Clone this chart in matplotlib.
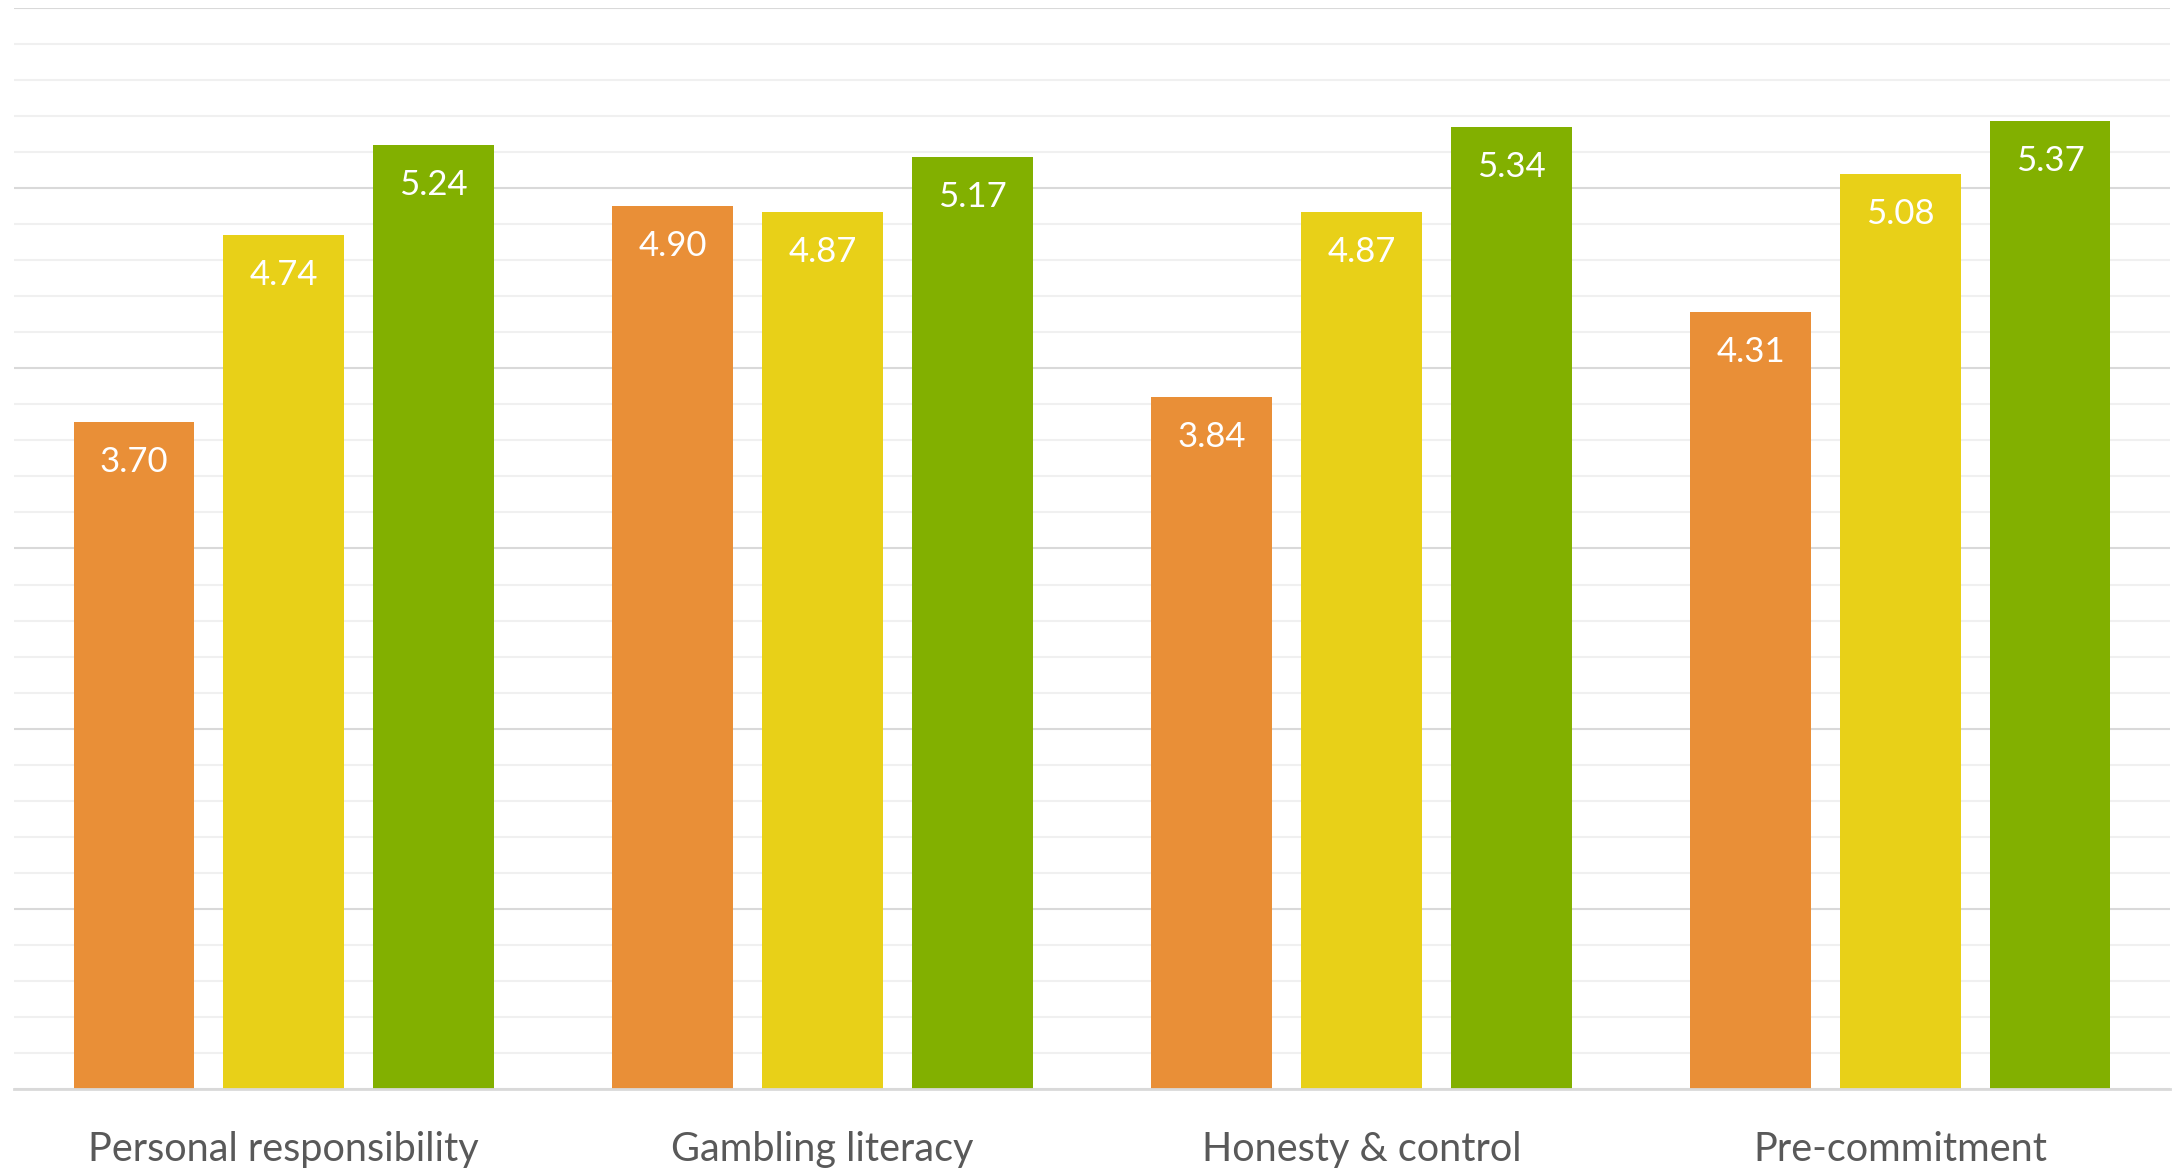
import matplotlib
matplotlib.use("Agg")
import matplotlib.pyplot as plt
import numpy as np
from matplotlib.ticker import MultipleLocator

categories = ["Personal responsibility", "Gambling literacy", "Honesty & control", "Pre-commitment"]
series_a = [3.70, 4.90, 3.84, 4.31]
series_b = [4.74, 4.87, 4.87, 5.08]
series_c = [5.24, 5.17, 5.34, 5.37]
colors = ["#E98F37", "#E8D018", "#82B000"]

plt.rcParams["font.family"] = ["Lato", "DejaVu Sans"]

fig = plt.figure(figsize=(21.72, 11.68), dpi=100)
ax = fig.add_axes([0.0065, 0.0676, 0.9925, 0.9256])

x = np.arange(len(categories))
width = 0.2236
step = 0.278
for i, (vals, col) in enumerate(zip([series_a, series_b, series_c], colors)):
    bars = ax.bar(x + (i - 1) * step, vals, width=width, color=col, zorder=3)
    for b, v in zip(bars, vals):
        ax.annotate(f"{v:.2f}", (b.get_x() + b.get_width() / 2, v),
                    xytext=(0, -40), textcoords="offset pixels",
                    ha="center", va="center", color="white", fontsize=25, zorder=4)

ax.set_xlim(-0.5, 3.5)
ax.set_ylim(0, 6)
ax.yaxis.set_major_locator(MultipleLocator(1))
ax.yaxis.set_minor_locator(MultipleLocator(0.2))
ax.grid(True, which="major", axis="y", color="#D9D9D9", linewidth=1.5, zorder=1)
ax.grid(True, which="minor", axis="y", color="#F0F0F0", linewidth=1.5, zorder=0)
ax.set_axisbelow(True)

for s in ("left", "right", "top"):
    ax.spines[s].set_visible(False)
ax.spines["bottom"].set_color("#D9D9D9")
ax.spines["bottom"].set_linewidth(2)
ax.spines["bottom"].set_zorder(5)

ax.set_xticks(x)
ax.set_xticklabels(categories, fontsize=28.5, color="#595959")
ax.tick_params(axis="x", length=0, pad=30)
ax.tick_params(axis="y", which="both", length=0, labelleft=False)

fig.savefig("out.png", dpi=100)
